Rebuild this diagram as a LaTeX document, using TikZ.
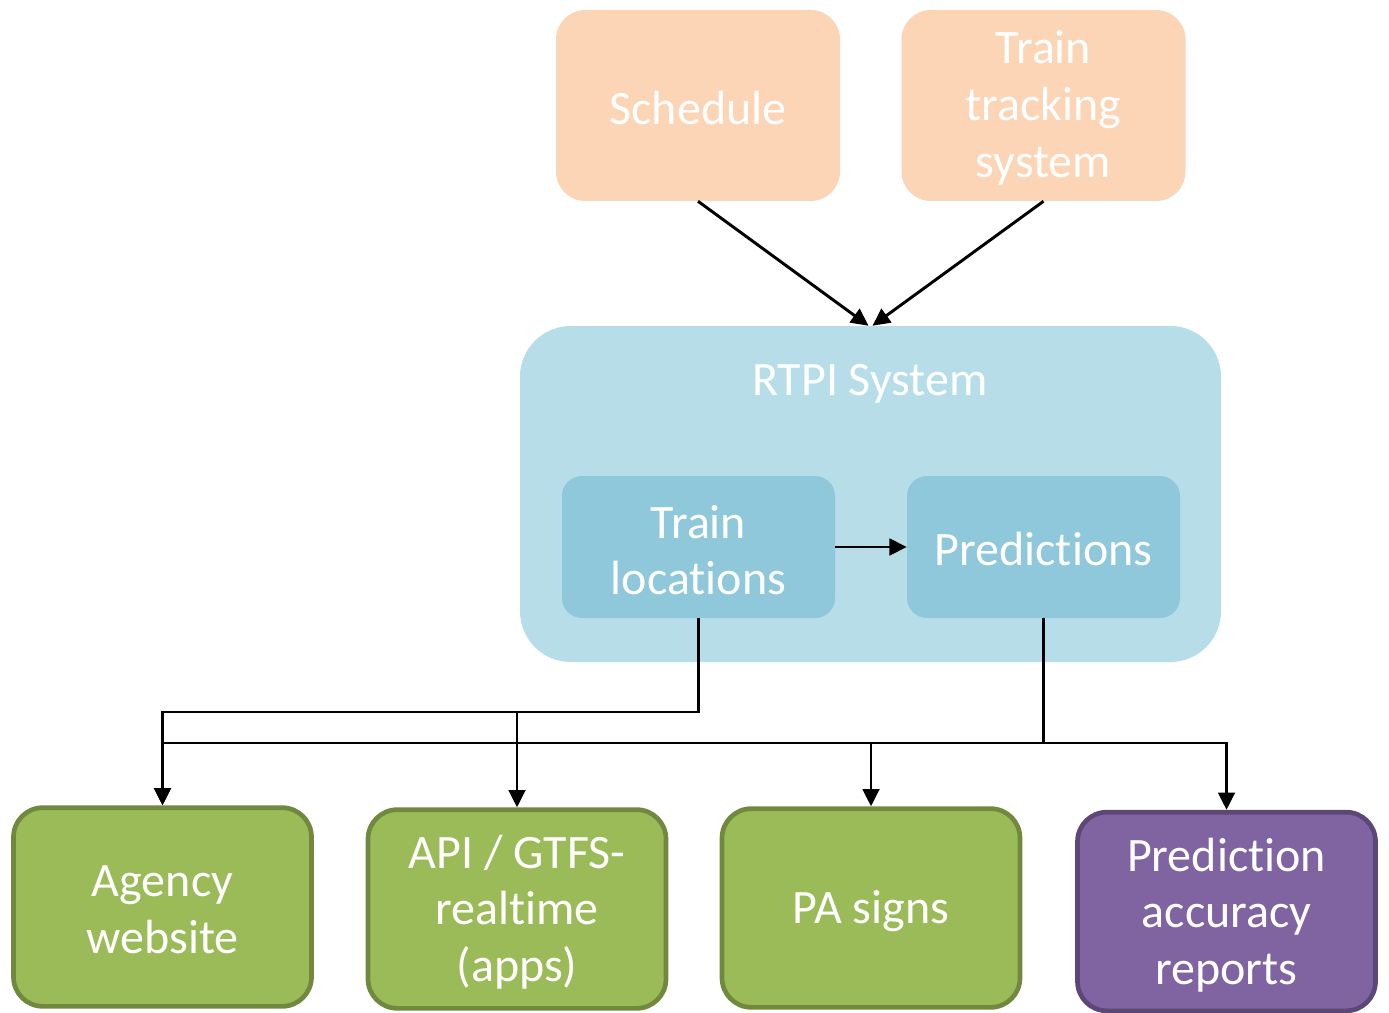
\documentclass[tikz,border=0pt]{standalone}
\usepackage{fontspec}
\setmainfont[Ligatures=NoCommon]{Carlito}
\usetikzlibrary{arrows.meta,calc}
\definecolor{srcfill}{HTML}{FBD5B5}
\definecolor{sysfill}{HTML}{B7DEE8}
\definecolor{innfill}{HTML}{8EC8DA}
\definecolor{grnfill}{HTML}{9BBB59}
\definecolor{grnline}{HTML}{71893F}
\definecolor{purfill}{HTML}{8064A2}
\definecolor{purline}{HTML}{5C4776}
\begin{document}
\begin{tikzpicture}[x=0.75pt,y=-0.75pt,
 lbl/.style={font=\fontsize{36}{42.5}\selectfont, text=white, align=center, inner sep=0pt},
 src/.style={fill=srcfill, rounded corners=22pt, minimum width=213pt, minimum height=143.25pt, inner sep=0pt},
 sys/.style={fill=sysfill, rounded corners=38pt, minimum width=525.75pt, minimum height=252pt, inner sep=0pt},
 inn/.style={fill=innfill, rounded corners=15pt, minimum width=204.75pt, minimum height=106.5pt, inner sep=0pt},
 outbox/.style={line width=3.5pt, rounded corners=22pt, minimum width=223.5pt, minimum height=149pt, inner sep=0pt},
 grn/.style={outbox, fill=grnfill, draw=grnline},
 pur/.style={outbox, fill=purfill, draw=purline},
 arr/.style={line width=2.2pt, -{Triangle[length=13pt,width=12.5pt]}}
]
\useasboundingbox (0,0) rectangle (1389,1013);
\node[src] (sch) at (698,105.5) {};
\node[lbl] (scht) at (698,108) {Schedule};
\node[src] (trk) at (1043.5,105.5) {};
\node[lbl] (trkt) at (1043.5,108) {Train\\tracking\\system};
\node[sys] (rtpi) at (870.5,494) {};
\node[lbl] (ttl) at (870,384) {RTPI System};
\node[inn] (tl) at (698.5,547) {};
\node[lbl] (tlt) at (698.5,550) {Train\\locations};
\node[inn] (pr) at (1043.5,547) {};
\node[lbl] (prt) at (1043.5,549) {Predictions};
\node[grn] (ag) at (162.5,907) {};
\node[lbl] (agt) at (162.5,910) {Agency\\website};
\node[grn] (api) at (517,909) {};
\node[lbl] (apit) at (517,912) {API / GTFS-\\realtime\\(apps)};
\node[grn] (pa) at (871,908) {};
\node[lbl] (pat) at (871,911) {PA signs};
\node[pur] (rep) at (1226.5,911.5) {};
\node[lbl] (rept) at (1226.5,915) {Prediction\\accuracy\\reports};

\draw[arr] (sch.south) -- ($(rtpi.north)+(-2,0)$);
\draw[arr] (trk.south) -- ($(rtpi.north)+(2,0)$);
\draw[arr] (tl.east) -- (pr.west);

\coordinate (j1) at (tl.south |- 0,712);
\coordinate (j2) at (pr.south |- 0,743);
\draw[arr] (tl.south) -- (j1) -| (ag.north);
\draw[arr] (api.north |- j1) -- (api.north);
\draw[arr] (pr.south) -- (j2) -| (ag.north);
\draw[arr] (j2) -| (rep.north);
\draw[arr] (pa.north |- j2) -- (pa.north);
\end{tikzpicture}
\end{document}
